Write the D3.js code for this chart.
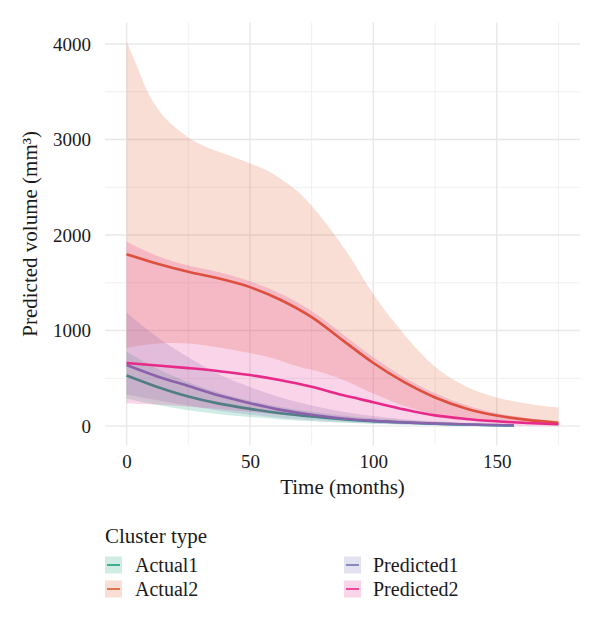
<!DOCTYPE html>
<html>
<head>
<meta charset="utf-8">
<script src="https://cdn.jsdelivr.net/npm/d3@7"></script>
<style>
html,body{margin:0;padding:0;background:#fff;}
svg{display:block;}
text{font-family:"Liberation Serif","Times New Roman",serif;fill:#1a1a1a;}
</style>
</head>
<body>
<svg id="chart" width="600" height="621"></svg>
<script>
// ---- Data ----
const clusters = ["Actual1", "Actual2", "Predicted1", "Predicted2"];
const colors = ["#1B9E77", "#DC5A2A", "#7570B3", "#E7298A"];

const xTicks = [0, 50, 100, 150];
const yTicks = [0, 1000, 2000, 3000, 4000];

// Short series (end ~157 months)
const timeShort = [0, 12.5, 25, 37.5, 50, 62.5, 75, 87.5, 100, 112.5, 125, 137.5, 150, 157];
// Long series (end 175 months)
const timeLong = [0, 12.5, 25, 37.5, 50, 62.5, 75, 87.5, 100, 112.5, 125, 137.5, 150, 162.5, 175];

const actual1Mean  = [530, 410, 310, 235, 180, 135, 100, 72, 52, 37, 25, 16, 9, 6];
const actual1Lower = [290, 220, 165, 125, 95, 70, 50, 35, 24, 16, 10, 6, 3, 2];
const actual1Upper = [780, 600, 460, 350, 265, 200, 150, 110, 82, 60, 42, 28, 18, 14];

const predicted1Mean  = [640, 520, 420, 320, 240, 170, 118, 80, 55, 38, 26, 17, 10, 7];
const predicted1Lower = [330, 270, 215, 160, 120, 85, 60, 42, 28, 18, 12, 7, 4, 3];
const predicted1Upper = [1190, 930, 720, 540, 410, 300, 215, 150, 105, 72, 50, 33, 22, 17];

const actual2Mean = [1800, 1700, 1615, 1545, 1455, 1320, 1140, 900, 660, 460, 300, 185, 110, 65, 35];
// Actual2 band has its own, finer time grid
const actual2BandTime  = [0, 4, 8, 12, 16, 20, 25, 32, 43, 50, 57, 63, 70, 80, 90, 100, 112.5, 125, 137.5, 150, 162.5, 175];
const actual2Upper     = [4030, 3780, 3525, 3345, 3215, 3120, 3020, 2925, 2820, 2750, 2675, 2580, 2440, 2150, 1790, 1380, 960, 620, 415, 300, 235, 195];
const actual2Lower     = [817, 835, 852, 863, 870, 870, 865, 845, 800, 764, 725, 680, 620, 555, 460, 340, 210, 125, 72, 40, 20, 10];

const predicted2Mean  = [660, 635, 607, 575, 534, 480, 412, 325, 250, 175, 112, 75, 50, 32, 20];
const predicted2Lower = [240, 225, 205, 180, 150, 120, 90, 65, 45, 30, 20, 12, 8, 4, 2];
const predicted2Upper = [1930, 1780, 1680, 1610, 1515, 1385, 1205, 965, 720, 510, 345, 220, 135, 85, 48];

// ---- Build series ----
function zipLine(t, v) { return t.map((x, i) => ({x: x, y: v[i]})); }
function zipBand(t, lo, hi) { return t.map((x, i) => ({x: x, lo: lo[i], hi: hi[i]})); }

const series = [
  {name: clusters[0], color: colors[0], band: zipBand(timeShort, actual1Lower, actual1Upper), line: zipLine(timeShort, actual1Mean)},
  {name: clusters[1], color: colors[1], band: zipBand(actual2BandTime, actual2Lower, actual2Upper), line: zipLine(timeLong, actual2Mean)},
  {name: clusters[2], color: colors[2], band: zipBand(timeShort, predicted1Lower, predicted1Upper), line: zipLine(timeShort, predicted1Mean)},
  {name: clusters[3], color: colors[3], band: zipBand(timeLong, predicted2Lower, predicted2Upper), line: zipLine(timeLong, predicted2Mean)}
];

// ---- Layout ----
const svg = d3.select("#chart");
const panel = {left: 105, right: 580, top: 22.5, bottom: 445.2};

const x = d3.scaleLinear().domain([-8.75, 183.75]).range([panel.left, panel.right]);
const y = d3.scaleLinear().domain([-200, 4225]).range([panel.bottom, panel.top]);

// Grid
const grid = svg.append("g");
const xMinor = [25, 75, 125, 175];
const yMinor = [500, 1500, 2500, 3500];
grid.selectAll(".xminor").data(xMinor).enter().append("line")
  .attr("x1", d => x(d)).attr("x2", d => x(d))
  .attr("y1", panel.top).attr("y2", panel.bottom)
  .attr("stroke", "#f0f0f0").attr("stroke-width", 1);
grid.selectAll(".yminor").data(yMinor).enter().append("line")
  .attr("x1", panel.left).attr("x2", panel.right)
  .attr("y1", d => y(d)).attr("y2", d => y(d))
  .attr("stroke", "#f0f0f0").attr("stroke-width", 1);
grid.selectAll(".xmajor").data(xTicks).enter().append("line")
  .attr("x1", d => x(d)).attr("x2", d => x(d))
  .attr("y1", panel.top).attr("y2", panel.bottom)
  .attr("stroke", "#e8e8e8").attr("stroke-width", 1.4);
grid.selectAll(".ymajor").data(yTicks).enter().append("line")
  .attr("x1", panel.left).attr("x2", panel.right)
  .attr("y1", d => y(d)).attr("y2", d => y(d))
  .attr("stroke", "#e8e8e8").attr("stroke-width", 1.4);

// Marks: per group, ribbon then line (ggplot geom_smooth draw order)
const area = d3.area().x(d => x(d.x)).y0(d => y(d.lo)).y1(d => y(d.hi)).curve(d3.curveMonotoneX);
const line = d3.line().x(d => x(d.x)).y(d => y(d.y)).curve(d3.curveMonotoneX);

const marks = svg.append("g");
series.forEach(s => {
  marks.append("path").datum(s.band)
    .attr("d", area).attr("fill", s.color).attr("fill-opacity", 0.2).attr("stroke", "none");
  marks.append("path").datum(s.line)
    .attr("d", line).attr("fill", "none").attr("stroke", s.color).attr("stroke-width", 2.6);
});

// Axes (no lines, only labels) via d3 axes
const xAxis = svg.append("g").attr("transform", `translate(0,${panel.bottom})`)
  .call(d3.axisBottom(x).tickValues(xTicks).tickFormat(d3.format("d")).tickSize(0).tickPadding(9));
xAxis.select(".domain").remove();
xAxis.selectAll("text").style("font-size", "19px").style("font-family", "Liberation Serif, serif").attr("fill", "#1a1a1a");

const yAxis = svg.append("g").attr("transform", `translate(${panel.left},0)`)
  .call(d3.axisLeft(y).tickValues(yTicks).tickFormat(d3.format("d")).tickSize(0).tickPadding(14));
yAxis.select(".domain").remove();
yAxis.selectAll("text").style("font-size", "19px").style("font-family", "Liberation Serif, serif").attr("fill", "#1a1a1a");

// Axis titles
svg.append("text").attr("x", (x(0) + x(175)) / 2).attr("y", 494)
  .attr("text-anchor", "middle").style("font-size", "21px").text("Time (months)");
svg.append("text").attr("transform", `translate(37,${(panel.top + panel.bottom) / 2}) rotate(-90)`)
  .attr("text-anchor", "middle").style("font-size", "21px").text("Predicted volume (mm³)");

// Legend
const legend = svg.append("g");
legend.append("text").attr("x", 105).attr("y", 543).style("font-size", "21px").text("Cluster type");
const legendPos = [
  {kx: 105, tx: 135, cy: 565},
  {kx: 105, tx: 135, cy: 589},
  {kx: 344, tx: 373, cy: 565},
  {kx: 344, tx: 373, cy: 589}
];
series.forEach((s, i) => {
  const p = legendPos[i];
  legend.append("rect").attr("x", p.kx).attr("y", p.cy - 8.5).attr("width", 17).attr("height", 17)
    .attr("fill", s.color).attr("fill-opacity", 0.2);
  legend.append("line").attr("x1", p.kx + 2).attr("x2", p.kx + 15).attr("y1", p.cy).attr("y2", p.cy)
    .attr("stroke", s.color).attr("stroke-width", 1.6);
  legend.append("text").attr("x", p.tx).attr("y", p.cy + 6.5).style("font-size", "20px").text(s.name);
});
</script>
</body>
</html>
